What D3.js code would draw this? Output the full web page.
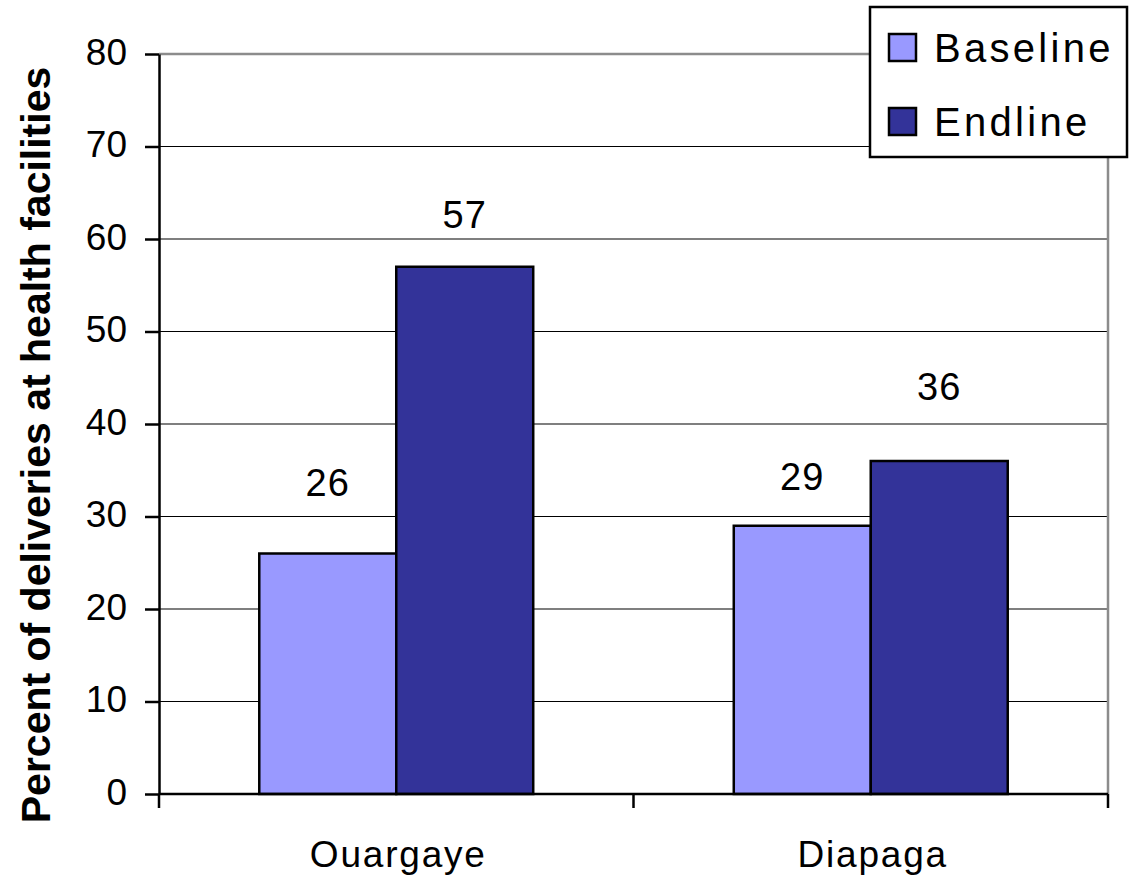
<!DOCTYPE html>
<html>
<head>
<meta charset="utf-8">
<script src="https://cdn.jsdelivr.net/npm/d3@7/dist/d3.min.js"></script>
<style>
  html, body { margin: 0; padding: 0; background: #fff; }
  svg { display: block; font-family: "Liberation Sans", Arial, sans-serif; }
</style>
</head>
<body>
<svg id="chart" width="1129" height="878"></svg>
<script>
// Facility delivery rates by district, before and after the intervention
const categories = ["Ouargaye", "Diapaga"];
const seriesNames = ["Baseline", "Endline"];
const baselineValues = [26, 29];
const endlineValues = [57, 36];
const yTicks = [0, 10, 20, 30, 40, 50, 60, 70, 80];
const yTitle = "Percent of deliveries at health facilities";

// Pixel lift of each value label above its bar top, per series
const labelLift = { Baseline: [58, 36], Endline: [39, 61] };

const colors = { Baseline: "#9999FF", Endline: "#333399" };

const svg = d3.select("#chart");
const plot = { left: 159, right: 1108, top: 54, bottom: 794 };

const y = d3.scaleLinear().domain([0, 80]).range([plot.bottom, plot.top]);
const x0 = d3.scaleBand().domain(categories).range([plot.left, plot.right]).paddingInner(0).paddingOuter(0);
const x1 = d3.scaleBand().domain(seriesNames).range([0, x0.bandwidth()]).paddingInner(0).paddingOuter(0.732);

const rows = categories.map((c, i) => ({
  category: c,
  values: [
    { series: "Baseline", value: baselineValues[i], idx: i },
    { series: "Endline", value: endlineValues[i], idx: i }
  ]
}));

// Horizontal gridlines (inside the plot, excluding 0 and top border)
svg.append("g")
  .selectAll("line")
  .data(yTicks.filter(t => t > 0 && t < 80))
  .join("line")
  .attr("x1", plot.left).attr("x2", plot.right)
  .attr("y1", d => y(d)).attr("y2", d => y(d))
  .attr("stroke", "#000").attr("stroke-width", 1.2);

// Top and right plot border in grey
svg.append("path")
  .attr("d", `M${plot.left},${y(80)} H${plot.right} V${plot.bottom}`)
  .attr("fill", "none").attr("stroke", "#8c8c8c").attr("stroke-width", 2.5);

// Bars
const groups = svg.append("g").selectAll("g")
  .data(rows)
  .join("g")
  .attr("transform", d => `translate(${x0(d.category)},0)`);

groups.selectAll("rect")
  .data(d => d.values)
  .join("rect")
  .attr("x", d => x1(d.series))
  .attr("y", d => y(d.value))
  .attr("width", x1.bandwidth())
  .attr("height", d => y(0) - y(d.value))
  .attr("fill", d => colors[d.series])
  .attr("stroke", "#000").attr("stroke-width", 2.5);

// Value labels
groups.selectAll("text")
  .data(d => d.values)
  .join("text")
  .attr("x", d => x1(d.series) + x1.bandwidth() / 2)
  .attr("y", d => y(d.value) - labelLift[d.series][d.idx])
  .attr("text-anchor", "middle")
  .attr("font-size", 38)
  .attr("letter-spacing", 1)
  .text(d => d.value);

// Y axis
const yAxis = d3.axisLeft(y).tickValues(yTicks).tickSize(14).tickPadding(18).tickSizeOuter(0);
const gy = svg.append("g").attr("transform", `translate(${plot.left},0)`).call(yAxis);
gy.select(".domain").attr("stroke", "#000").attr("stroke-width", 2.5);
gy.selectAll(".tick line").attr("stroke", "#000").attr("stroke-width", 2.5);
gy.selectAll(".tick text")
  .attr("font-size", 37).attr("font-family", "Liberation Sans, Arial, sans-serif")
  .attr("fill", "#000").attr("dy", "0.28em");

// X axis with ticks at category boundaries
svg.append("line")
  .attr("x1", plot.left).attr("x2", plot.right)
  .attr("y1", plot.bottom).attr("y2", plot.bottom)
  .attr("stroke", "#000").attr("stroke-width", 2.5);
const boundaries = categories.map(c => x0(c)).concat([x0(categories[categories.length - 1]) + x0.bandwidth()]);
svg.append("g").selectAll("line")
  .data(boundaries)
  .join("line")
  .attr("x1", d => d).attr("x2", d => d)
  .attr("y1", plot.bottom).attr("y2", plot.bottom + 14)
  .attr("stroke", "#000").attr("stroke-width", 2.5);
svg.append("g").selectAll("text")
  .data(categories)
  .join("text")
  .attr("x", d => x0(d) + x0.bandwidth() / 2 + 2)
  .attr("y", 867)
  .attr("text-anchor", "middle")
  .attr("font-size", 37)
  .attr("letter-spacing", 1.8)
  .text(d => d);

// Y axis title
svg.append("text")
  .attr("transform", `translate(50,445) rotate(-90)`)
  .attr("text-anchor", "middle")
  .attr("font-size", 41)
  .attr("font-weight", "bold")
  .text(yTitle);

// Legend
const legend = svg.append("g");
legend.append("rect")
  .attr("x", 870).attr("y", 7).attr("width", 257).attr("height", 150)
  .attr("fill", "#fff").attr("stroke", "#000").attr("stroke-width", 2.5);
const items = legend.selectAll("g.item")
  .data(seriesNames)
  .join("g").attr("class", "item")
  .attr("transform", (d, i) => `translate(0,${i * 74})`);
items.append("rect")
  .attr("x", 889).attr("y", 34).attr("width", 27).attr("height", 27)
  .attr("fill", d => colors[d]).attr("stroke", "#000").attr("stroke-width", 2.5);
items.append("text")
  .attr("x", 934).attr("y", 62)
  .attr("font-size", 40)
  .attr("letter-spacing", 3.3)
  .text(d => d);
</script>
</body>
</html>
